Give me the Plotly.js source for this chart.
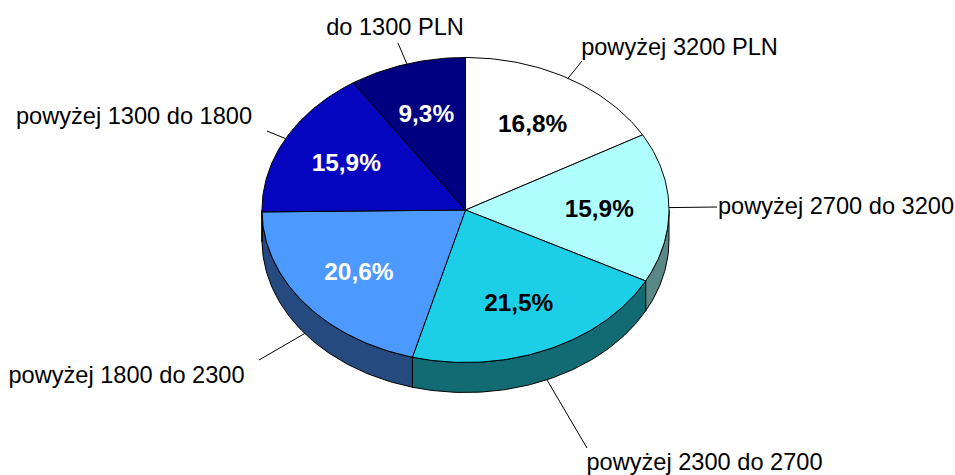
<!DOCTYPE html>
<html><head><meta charset="utf-8">
<script src="https://cdn.plot.ly/plotly-3.0.1.min.js"></script>
<style>html,body{margin:0;padding:0;background:#fff}#c{width:955px;height:475px}</style>
</head><body><div id="c"></div>
<script>
const categories = ["powyżej 3200 PLN","powyżej 2700 do 3200","powyżej 2300 do 2700","powyżej 1800 do 2300","powyżej 1300 do 1800","do 1300 PLN"];
const shares = [16.8,15.9,21.5,20.6,15.9,9.3];
const shareLabels = ["16,8%","15,9%","21,5%","20,6%","15,9%","9,3%"];
const topColors = ["#FFFFFF","#B0FFFF","#1CCFE6","#4C99FF","#0606C0","#000080"];
const sideColors = ["#808080","#5A8886","#126A72","#254A7F","#030360","#000040"];
const pctColors = ["#000","#000","#000","#fff","#fff","#fff"];
const labelX = [679.5,836,704.5,126.5,134,395];
const labelY = [49.5,208.5,464.5,377.5,118.5,29.5];
const leaderX = [582,717,587,259,267,398];
const leaderY = [61,207,448,360,131,43];

const cx=465.5, cy=210, rx=203.5, ry=152.5, depth=30, D2R=Math.PI/180;
const px=t=>cx+rx*Math.sin(t*D2R), py=t=>cy-ry*Math.cos(t*D2R);
const total=shares.reduce((a,b)=>a+b,0);
let acc=0;
const spans=shares.map(v=>{const a=acc/total*360; acc+=v; return [a,acc/total*360];});
const arc=(a,b)=>{const n=Math.max(2,Math.ceil(Math.abs(b-a)));return Array.from({length:n+1},(_,i)=>a+(b-a)*i/n);};
const traces=[];
// sides (front half only)
spans.forEach(([a,b],i)=>{
  const s=Math.max(a,90), e=Math.min(b,270);
  if(e<=s) return;
  const ts=arc(s,e);
  traces.push({x:[...ts.map(px),...ts.slice().reverse().map(px),px(s)],
    y:[...ts.map(t=>py(t)+depth),...ts.slice().reverse().map(py),py(s)+depth],
    mode:'lines',fill:'toself',fillcolor:sideColors[i],line:{color:'#000',width:1},hoverinfo:'skip'});
});
// tops
spans.forEach(([a,b],i)=>{
  const ts=arc(a,b);
  traces.push({x:[cx,...ts.map(px),cx],y:[cy,...ts.map(py),cy],
    mode:'lines',fill:'toself',fillcolor:topColors[i],line:{color:'#000',width:1},hoverinfo:'skip'});
});
const mids=spans.map(([a,b])=>(a+b)/2);
// leaders
mids.forEach((m,i)=>{
  const front=Math.cos(m*D2R)<0;
  traces.push({x:[px(m),leaderX[i]],y:[py(m)+(front?depth:0),leaderY[i]],mode:'lines',
    line:{color:'#000',width:1},hoverinfo:'skip'});
});
// percent labels
traces.push({x:mids.map(m=>cx+0.66*rx*Math.sin(m*D2R)-0.5),y:mids.map(m=>cy-0.66*ry*Math.cos(m*D2R)+2.5),
  mode:'text',text:shareLabels.map(s=>'<b>'+s+'</b>'),textposition:'middle center',
  textfont:{family:'"Liberation Sans",Arial,sans-serif',size:24.4,color:pctColors},hoverinfo:'skip'});
// category labels
traces.push({x:labelX,y:labelY,mode:'text',text:categories,textposition:'middle center',
  textfont:{family:'"Liberation Sans",Arial,sans-serif',size:23.6,color:'#000'},hoverinfo:'skip'});

const ax={range:[0,955],visible:false,fixedrange:true};
Plotly.newPlot('c',traces,{width:955,height:475,margin:{l:0,r:0,t:0,b:0},showlegend:false,
  paper_bgcolor:'#fff',plot_bgcolor:'#fff',xaxis:ax,yaxis:{range:[475,0],visible:false,fixedrange:true}},{displayModeBar:false,staticPlot:true});
</script></body></html>
